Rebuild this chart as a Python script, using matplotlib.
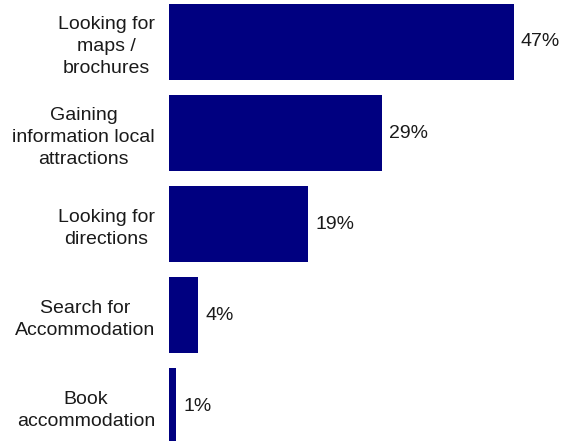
import matplotlib.pyplot as plt

# survey results: reasons for using the service
categories = ["Looking for\nmaps /\nbrochures",
              "Gaining\ninformation local\nattractions",
              "Looking for\ndirections",
              "Search for\nAccommodation",
              "Book\naccommodation"]
values = [47, 29, 19, 4, 1]

plt.rcParams['font.family'] = ['Liberation Sans', 'DejaVu Sans']

fig = plt.figure(figsize=(5.67, 4.41), dpi=100)
ax = fig.add_axes([169 / 567, 0, 367 / 567, 1])

pos = list(range(len(values)))
ax.barh(pos, values, height=0.84, color='#000080')
ax.set_xlim(0, 50)
ax.set_ylim(441 / 91 - 42 / 91, -42 / 91)

for y, v in zip(pos, values):
    ax.text(v + 0.95, y, f"{v}%", va='center', ha='left', fontsize=14, color='#1a1a1a')

ax.set_yticks(pos)
ax.set_yticklabels(categories, fontsize=14, color='#1a1a1a', multialignment='center',
                   linespacing=1.4)
ax.tick_params(axis='y', length=0, pad=10)
ax.set_xticks([])
for s in ax.spines.values():
    s.set_visible(False)

fig.savefig('out.png', dpi=100)
